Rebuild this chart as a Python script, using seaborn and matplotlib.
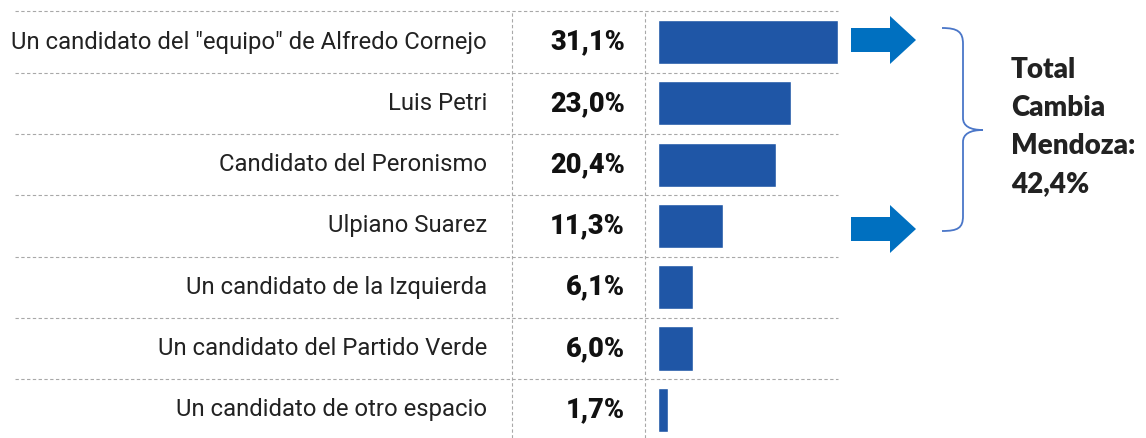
import matplotlib
matplotlib.use("Agg")
import matplotlib.pyplot as plt
import seaborn as sns
import pandas as pd
from matplotlib.path import Path
from matplotlib.patches import PathPatch, Polygon
from matplotlib.transforms import blended_transform_factory

categories = [
    'Un candidato del "equipo" de Alfredo Cornejo',
    "Luis Petri",
    "Candidato del Peronismo",
    "Ulpiano Suarez",
    "Un candidato de la Izquierda",
    "Un candidato del Partido Verde",
    "Un candidato de otro espacio",
]
values = [31.1, 23.0, 20.4, 11.3, 6.1, 6.0, 1.7]
value_labels = ["31,1%", "23,0%", "20,4%", "11,3%", "6,1%", "6,0%", "1,7%"]
total_lines = ["Total", "Cambia", "Mendoza:", "42,4%"]

W, H = 1146, 438
BAR_COLOR = "#1F56A6"
ARROW_COLOR = "#0070C0"
BRACE_COLOR = "#4A76C8"
GRID_COLOR = "#a8a8a8"

sns.set_theme(style="white")
plt.rcParams["font.family"] = ["Roboto", "DejaVu Sans"]

fig = plt.figure(figsize=(W / 100, H / 100), dpi=100)
ax = fig.add_axes([0, 0, 1, 1])

df = pd.DataFrame({"cat": categories, "val": values})
sns.barplot(data=df, y="cat", x="val", orient="h", color=BAR_COLOR,
            saturation=1, width=0.72, ax=ax, order=categories)

# pixel mapping: x=0 at 658 px, 5.79 px per unit; rows centered at 42 + 61.3*i
x0_px, sx = 658.0, 5.79
ax.set_xlim(-x0_px / sx, (W - x0_px) / sx)
r0, rh = 42.0, 61.3
ax.set_ylim((H - r0) / rh, -r0 / rh)
ax.axis("off")

def fx(px):
    return px / W

def fy(py):
    return 1 - py / H

# dashed row separators
for i in range(len(categories) + 1):
    ax.axhline(i - 0.5, xmin=fx(15), xmax=fx(838), color=GRID_COLOR,
               lw=0.8, ls=(0, (3, 2.2)), zorder=0)
# vertical dashed separators
for xp in (512, 645):
    ax.axvline((xp - x0_px) / sx, ymin=0, ymax=fy(11), color=GRID_COLOR,
               lw=0.8, ls=(0, (3, 2.2)), zorder=0)

tr = blended_transform_factory(fig.transFigure, ax.transData)
for i, (c, vl) in enumerate(zip(categories, value_labels)):
    ax.text(fx(487), i, c, transform=tr, ha="right", va="center",
            fontsize=17.2, color="#222222")
    ax.text(fx(625), i, vl, transform=tr, ha="right", va="center",
            fontsize=19.5, fontweight="black", color="#111111")

# arrows
def arrow(yc):
    pts = [(851, yc - 12), (890, yc - 12), (890, yc - 24), (916, yc),
           (890, yc + 24), (890, yc + 12), (851, yc + 12)]
    poly = Polygon([(fx(a), fy(b)) for a, b in pts], closed=True,
                   transform=fig.transFigure, facecolor=ARROW_COLOR,
                   edgecolor="none")
    fig.patches.append(poly)

arrow(40)
arrow(229)

# brace
bp = [(942, 28), (958, 28), (963, 32), (963, 44),
      (963, 118),
      (963, 126), (970, 130), (983, 130),
      (970, 130), (963, 134), (963, 142),
      (963, 216),
      (963, 228), (958, 231), (942, 231)]
codes = [Path.MOVETO, Path.CURVE4, Path.CURVE4, Path.CURVE4,
         Path.LINETO,
         Path.CURVE4, Path.CURVE4, Path.CURVE4,
         Path.CURVE4, Path.CURVE4, Path.CURVE4,
         Path.LINETO,
         Path.CURVE4, Path.CURVE4, Path.CURVE4]
path = Path([(fx(a), fy(b)) for a, b in bp], codes)
fig.patches.append(PathPatch(path, transform=fig.transFigure, fill=False,
                             edgecolor=BRACE_COLOR, lw=1.3))

for k, line in enumerate(total_lines):
    fig.text(fx(1011), fy(78 + 38 * k), line, ha="left", va="baseline",
             fontsize=20, fontweight="heavy", color="#222222",
             family=["Lato", "DejaVu Sans"])

fig.savefig("out.png", dpi=100)
